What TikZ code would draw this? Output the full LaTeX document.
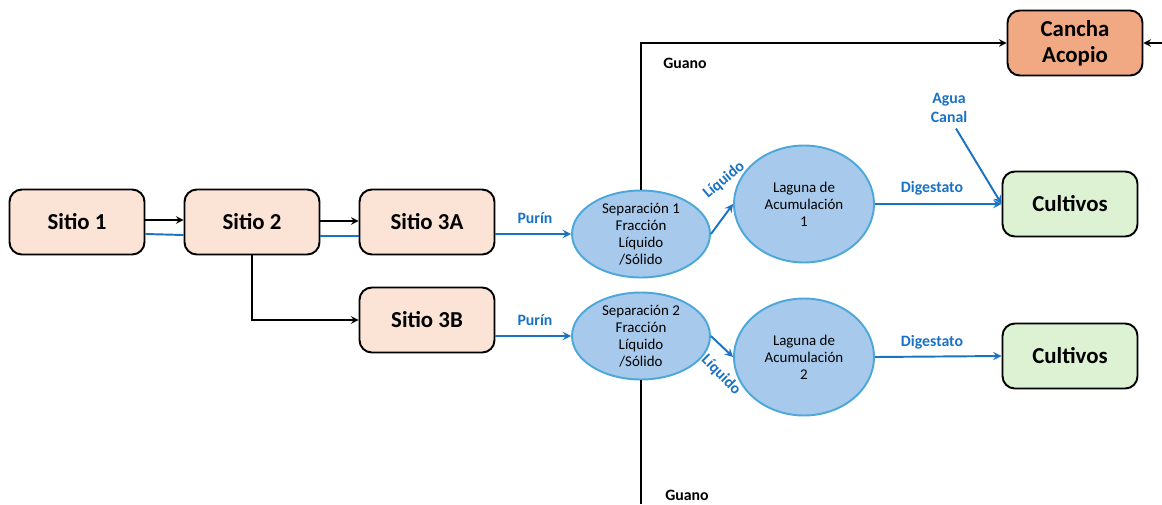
\documentclass[tikz,border=0pt]{standalone}
\usepackage{fontspec}
\setmainfont{Carlito}
\usetikzlibrary{shapes.geometric,calc}
\definecolor{peach}{HTML}{FBE3D6}
\definecolor{cultgreen}{HTML}{DCF2D2}
\definecolor{canchaorange}{HTML}{F1A983}
\definecolor{sepfill}{HTML}{A6C9EC}
\definecolor{sepline}{HTML}{4DA8DA}
\definecolor{flowblue}{HTML}{1A72C4}
\begin{document}
\begin{tikzpicture}[x=0.02cm,y=-0.02cm,>=stealth,
	box/.style={draw,line width=1.1pt,rounded corners=7pt,minimum width=2.7cm,minimum height=1.3cm,
		font=\fontsize{13}{15}\selectfont\bfseries,align=center},
	sitiobox/.style={box,fill=peach},
	cultbox/.style={box,fill=cultgreen},
	canchabox/.style={box,fill=canchaorange},
	sepnode/.style={ellipse,draw=sepline,fill=sepfill,line width=1.1pt,inner sep=0pt,
		minimum width=2.76cm,minimum height=1.5cm,align=center,font=\fontsize{8.5}{9.6}\selectfont},
	lagnode/.style={sepnode,minimum width=2.8cm,minimum height=2.34cm},
	flow/.style={->,draw=flowblue,line width=1.1pt},
	link/.style={->,line width=0.9pt},
	lbl/.style={font=\fontsize{9}{10.5}\selectfont\bfseries,text=flowblue,align=center,inner sep=1pt},
	guano/.style={font=\fontsize{9}{10.5}\selectfont\bfseries,inner sep=1pt}]
	\useasboundingbox (0,0) rectangle (1162,504);
	% boxes
	\node[sitiobox] (sitio1) at (77,222) {Sitio 1};
	\node[sitiobox] (sitio2) at (252,222) {Sitio 2};
	\node[sitiobox] (sitio3a) at (427,222) {Sitio 3A};
	\node[sitiobox] (sitio3b) at (427,320) {Sitio 3B};
	\node[canchabox] (cancha) at (1075,43) {Cancha\\Acopio};
	\node[cultbox] (cult1) at (1070,204) {Cultivos};
	\node[cultbox] (cult2) at (1070,356) {Cultivos};
	% separation and lagoons
	\node[sepnode] (sep1) at (641,234) {Separación 1\\Fracción\\Líquido\\/Sólido};
	\node[sepnode] (sep2) at (641,336) {Separación 2\\Fracción\\Líquido\\/Sólido};
	\node[lagnode] (lag1) at (804,204) {Laguna de\\Acumulación\\1};
	\node[lagnode] (lag2) at (804,357) {Laguna de\\Acumulación\\2};
	% black links
	\draw[link] ($(sitio1.east)+(0,-2)$) -- ($(sitio2.west)+(0,-2)$);
	\draw[link] ($(sitio2.east)+(0,-1)$) -- ($(sitio3a.west)+(0,-1)$);
	\draw[link] (sitio2.south) |- (sitio3b.west);
	\draw[link] (sep1.north) |- (cancha.west);
	\coordinate (inright) at (1162,43);
	\draw[link] (inright) -- (cancha.east);
	\coordinate (downend) at (641,504);
	\draw[line width=0.9pt] (sep2.south) -- (downend);
	\node[guano] (guano1) at (685,63) {Guano};
	\node[guano] (guano2) at (687,495) {Guano};
	% blue flows
	\draw[draw=flowblue,line width=1.1pt] ($(sitio1.east)+(0,12)$) -- ($(sitio2.west)+(0,13)$);
	\draw[draw=flowblue,line width=1.1pt] ($(sitio2.east)+(0,14)$) -- ($(sitio3a.west)+(0,14)$);
	\draw[flow] (sitio3a.east |- sep1.west) -- (sep1.west);
	\draw[flow] (sitio3b.east |- sep2.west) -- (sep2.west);
	\node[lbl] (purin1) at (535,218) {Purín};
	\node[lbl] (purin2) at (535,320) {Purín};
	\draw[flow] (sep1.east) -- (lag1.west);
	\draw[flow] (sep2.east) -- (lag2.west);
	\node[lbl,rotate=40] (liq1) at (724,180) {Líquido};
	\node[lbl,rotate=-45] (liq2) at (721,375) {Líquido};
	\draw[flow] (lag1.east) -- (cult1.west);
	\draw[flow] (lag2.east) -- (cult2.west);
	\node[lbl] (dig1) at (932,188) {Digestato};
	\node[lbl] (dig2) at (932,342) {Digestato};
	\node[lbl] (agua) at (949,108) {Agua\\Canal};
	\draw[flow] ($(agua.south)+(7,4)$) -- (cult1.west);
\end{tikzpicture}
\end{document}
